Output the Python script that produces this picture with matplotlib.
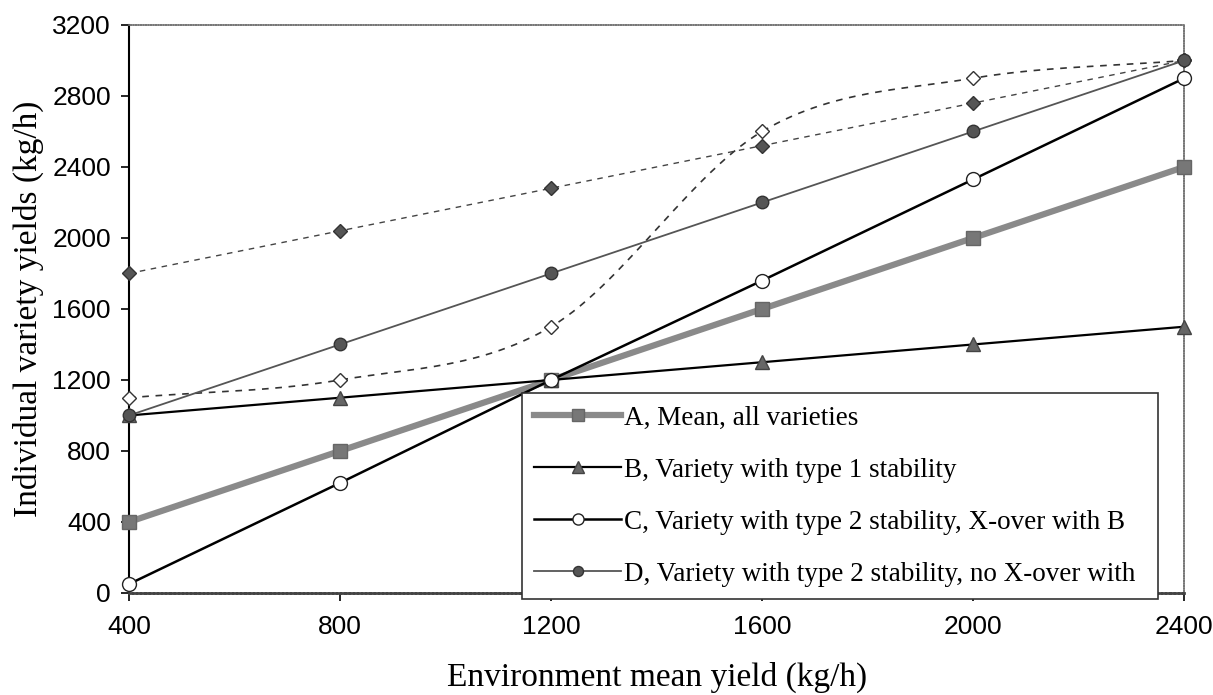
import numpy as np
import matplotlib
matplotlib.use('Agg')
import matplotlib.pyplot as plt

# data
env_mean = [400, 800, 1200, 1600, 2000, 2400]
a_mean = [400, 800, 1200, 1600, 2000, 2400]
b_type1 = [1000, 1100, 1200, 1300, 1400, 1500]
c_type2_xover = [50, 620, 1200, 1760, 2330, 2900]
d_type2_no_xover = [1000, 1400, 1800, 2200, 2600, 3000]
e_dashed_filled = [1800, 2040, 2280, 2520, 2760, 3000]
f_dashed_open = [1100, 1200, 1500, 2600, 2900, 3000]

labels = ['A, Mean, all varieties',
          'B, Variety with type 1 stability',
          'C, Variety with type 2 stability, X-over with B',
          'D, Variety with type 2 stability, no X-over with']


def smooth(x, y, n=30):
    # catmull-rom curve through the points, like excel's smoothed line
    x = np.asarray(x, float)
    y = np.asarray(y, float)
    px = np.concatenate([[2 * x[0] - x[1]], x, [2 * x[-1] - x[-2]]])
    py = np.concatenate([[2 * y[0] - y[1]], y, [2 * y[-1] - y[-2]]])
    xs, ys = [], []
    t = np.linspace(0, 1, n)
    for i in range(1, len(px) - 2):
        for p, out in ((px, xs), (py, ys)):
            p0, p1, p2, p3 = p[i - 1], p[i], p[i + 1], p[i + 2]
            out.extend(0.5 * (2 * p1 + (-p0 + p2) * t
                              + (2 * p0 - 5 * p1 + 4 * p2 - p3) * t ** 2
                              + (-p0 + 3 * p1 - 3 * p2 + p3) * t ** 3))
    return xs, ys


fig = plt.figure(figsize=(12.13, 6.95), dpi=100)
ax = fig.add_axes([0.1063, 0.1468, 0.870, 0.8173])

sans = 'Liberation Sans'
serif = 'Liberation Serif'

# unlabelled dashed series
ax.plot(env_mean, e_dashed_filled, color='#444444', lw=1.0, ls=(0, (4, 4)),
        marker='D', ms=7, mfc='#555555', mec='#333333', clip_on=False, zorder=3)
sx, sy = smooth(env_mean, f_dashed_open)
ax.plot(sx, sy, color='#333333', lw=1.2, ls=(0, (4, 4)), clip_on=False, zorder=3)
ax.plot(env_mean, f_dashed_open, ls='none', marker='D', ms=7, mfc='white',
        mec='#333333', mew=1.0, clip_on=False, zorder=4)

la, = ax.plot(env_mean, a_mean, color='#8a8a8a', lw=4.5, marker='s', ms=10,
              mfc='#777777', mec='#666666', clip_on=False, zorder=5)
lb, = ax.plot(env_mean, b_type1, color='black', lw=1.6, marker='^', ms=10,
              mfc='#666666', mec='#444444', clip_on=False, zorder=5)
lc, = ax.plot(env_mean, c_type2_xover, color='black', lw=1.8, marker='o', ms=10,
              mfc='white', mec='#222222', clip_on=False, zorder=6)
ld, = ax.plot(env_mean, d_type2_no_xover, color='#555555', lw=1.3, marker='o', ms=9,
              mfc='#555555', mec='#333333', clip_on=False, zorder=5)

ax.set_xlim(400, 2400)
ax.set_ylim(0, 3200)
ax.set_xticks(env_mean)
ax.set_yticks(range(0, 3201, 400))
ax.tick_params(direction='out', length=6, width=1.2, labelsize=19)
ax.tick_params(axis='x', pad=10)
ax.tick_params(axis='y', pad=7)
for t in ax.get_xticklabels() + ax.get_yticklabels():
    t.set_family(sans)

for s in ['top', 'right']:
    ax.spines[s].set_color('#777777')
    ax.spines[s].set_linewidth(1.2)
    ax.spines[s].set_linestyle((0, (1, 0.5)))
ax.spines['left'].set_linewidth(1.5)
ax.spines['bottom'].set_color('#444444')
ax.spines['bottom'].set_linewidth(2)
ax.spines['bottom'].set_linestyle((0, (1, 0.5)))

ax.set_xlabel('Environment mean yield (kg/h)', fontsize=24, family=serif, labelpad=16)
ax.set_ylabel('Individual variety yields (kg/h)', fontsize=24, family=serif, labelpad=6)

leg = ax.legend([la, lb, lc, ld], labels, loc='lower left', mode='expand',
                bbox_to_anchor=(0.3725, -0.0106, 0.603, 0.3), borderaxespad=0,
                prop={'family': serif, 'size': 19.5},
                frameon=True, fancybox=False, edgecolor='#333333', framealpha=1,
                handlelength=3.2, handletextpad=0.1, labelspacing=1.0,
                borderpad=0.45, markerscale=0.8)
leg.get_frame().set_linewidth(1.2)
leg.set_zorder(20)

fig.savefig('out.png', dpi=100)
